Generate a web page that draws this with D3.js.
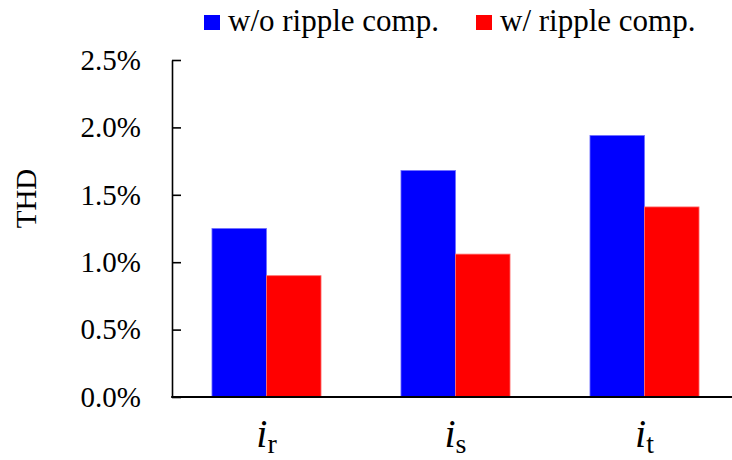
<!DOCTYPE html>
<html>
<head>
<meta charset="utf-8">
<script src="https://cdn.jsdelivr.net/npm/d3@7"></script>
<style>
  html, body { margin: 0; padding: 0; background: #fff; }
  svg { display: block; }
  svg text { font-family: 'Liberation Serif', 'Times New Roman', serif; }
</style>
</head>
<body>
<svg id="chart" width="732" height="460"></svg>
<script>
// THD of phase currents, with and without ripple compensation
const categories = ["r", "s", "t"];            // subscripts of i_r, i_s, i_t
const seriesNames = ["w/o ripple comp.", "w/ ripple comp."];
const seriesColors = ["#0000ff", "#ff0000"];
const seriesEdge = ["#6f6fff", "#ff6f6f"];
const withoutComp = [0.0125, 0.0168, 0.0194];
const withComp = [0.0090, 0.0106, 0.0141];
const yTicks = [0, 0.005, 0.010, 0.015, 0.020, 0.025];

const serif = "'Liberation Serif', 'Times New Roman', serif";
const svg = d3.select("#chart");
const plotLeft = 172, plotRight = 739, plotTop = 60, plotBottom = 397;

const values = [withoutComp, withComp];
const rows = categories.map((c, i) => ({
  cat: c,
  vals: seriesNames.map((s, k) => ({ series: k, value: values[k][i] }))
}));

const x = d3.scaleBand().domain(categories).range([plotLeft, plotRight])
  .paddingInner(0.423).paddingOuter(0.2115);
const xs = d3.scaleBand().domain(d3.range(seriesNames.length)).range([0, x.bandwidth()]).padding(0);
const y = d3.scaleLinear().domain([0, 0.025]).range([plotBottom, plotTop]);

// bars
const groups = svg.append("g").selectAll("g").data(rows).join("g")
  .attr("transform", d => `translate(${x(d.cat)},0)`);
groups.selectAll("rect").data(d => d.vals).join("rect")
  .attr("x", d => xs(d.series))
  .attr("y", d => y(d.value))
  .attr("width", xs.bandwidth())
  .attr("height", d => y(0) - y(d.value))
  .attr("fill", d => seriesColors[d.series])
  .attr("stroke", d => seriesEdge[d.series])
  .attr("stroke-width", 0.8);

// y axis, ticks pointing inward
const yAxis = d3.axisLeft(y).tickValues(yTicks).tickFormat(d3.format(".1%"))
  .tickSizeInner(-9).tickSizeOuter(0).tickPadding(31);
const gy = svg.append("g").attr("transform", `translate(${plotLeft},0)`).call(yAxis)
  .attr("font-family", serif).attr("font-size", 29);
gy.select(".domain").attr("stroke", "#000").attr("stroke-width", 1.6);
gy.selectAll(".tick line").attr("stroke", "#000").attr("stroke-width", 1.6);
gy.selectAll(".tick text").attr("fill", "#000").style("font-family", serif);

// x axis baseline
svg.append("line").attr("x1", plotLeft - 0.8).attr("x2", 732)
  .attr("y1", y(0)).attr("y2", y(0))
  .attr("stroke", "#000").attr("stroke-width", 1.8);

// category labels: italic i with subscript
const xl = svg.append("g").selectAll("text").data(categories).join("text")
  .attr("x", d => x(d) + x.bandwidth() / 2)
  .attr("y", 447)
  .attr("text-anchor", "middle")
  .attr("fill", "#000")
  .style("font-family", serif);
xl.append("tspan").attr("font-style", "italic").attr("font-size", 40).text("i");
xl.append("tspan").attr("font-size", 28).attr("dy", 6).text(d => d);

// y axis title
svg.append("text")
  .attr("transform", "translate(36,198.5) rotate(-90)")
  .attr("text-anchor", "middle")
  .attr("font-size", 29)
  .attr("fill", "#000")
  .style("font-family", serif)
  .text("THD");

// legend
const legendPos = [204, 476];
const lg = svg.append("g").selectAll("g").data(seriesNames).join("g")
  .attr("transform", (d, i) => `translate(${legendPos[i]},0)`);
lg.append("rect").attr("x", 0).attr("y", 15).attr("width", 16).attr("height", 15)
  .attr("fill", (d, i) => seriesColors[i]);
lg.append("text").attr("x", 24).attr("y", 31).attr("font-size", 31).attr("fill", "#000")
  .style("font-family", serif)
  .text(d => d);
</script>
</body>
</html>
